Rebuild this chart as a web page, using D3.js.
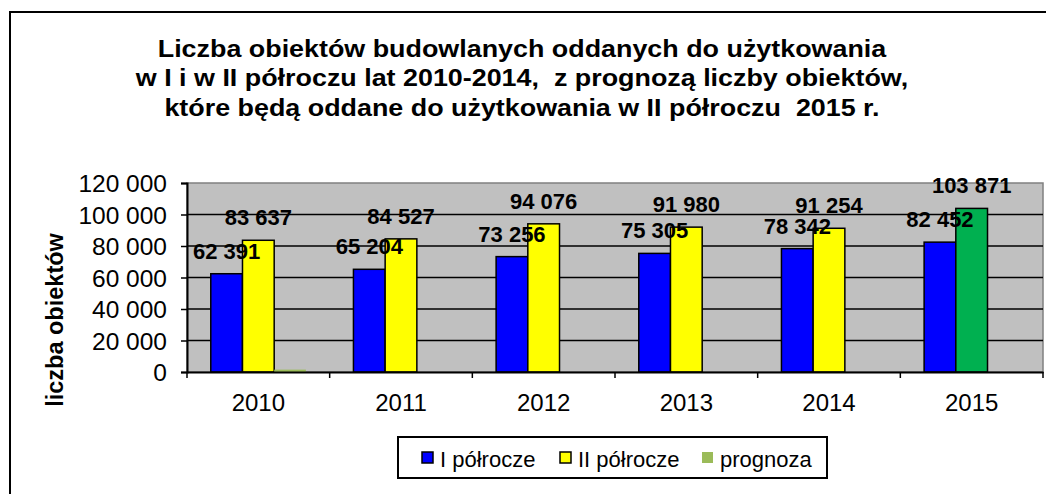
<!DOCTYPE html>
<html>
<head>
<meta charset="utf-8">
<script src="https://cdn.jsdelivr.net/npm/d3@7"></script>
<style>
  html, body { margin: 0; padding: 0; background: #fff; }
  svg { display: block; }
  text { font-family: "Liberation Sans", Arial, sans-serif; fill: #000; }
</style>
</head>
<body>
<svg id="chart" width="1046" height="494"></svg>
<script>
// ---- data ----
const years = ["2010", "2011", "2012", "2013", "2014", "2015"];
const firstHalf = [62391, 65204, 73256, 75305, 78342, 82452];
const secondHalf = [83637, 84527, 94076, 91980, 91254, 103871];
const forecast = [1500, null, null, null, null, null];
const forecastYear = "2015";
const yTicks = [0, 20000, 40000, 60000, 80000, 100000, 120000];
const seriesNames = ["I półrocze", "II półrocze", "prognoza"];
const titleLines = [
  "Liczba obiektów budowlanych oddanych do użytkowania",
  "w I i w II półroczu lat 2010-2014,  z prognozą liczby obiektów,",
  "które będą oddane do użytkowania w II półroczu  2015 r."
];
const yAxisTitle = "liczba obiektów";

// ---- layout ----
const svg = d3.select("#chart");
const plot = { left: 187, right: 1043, top: 183, bottom: 372 };
const colors = { I: "#0000FF", II: "#FFFF00", P: "#9BBB59", forecastBar: "#00B050" };
const fmt = v => d3.format(",")(v).replace(/,/g, " ");
const sx = 1.12; // horizontal stretch of the title text

// chart frame
svg.append("rect").attr("x", 10).attr("y", 12).attr("width", 1060).attr("height", 500)
  .attr("fill", "#fff").attr("stroke", "#000").attr("stroke-width", 2);

// title
svg.append("g").attr("transform", `scale(${sx},1)`)
  .selectAll("text").data(titleLines).join("text")
  .attr("x", 522 / sx).attr("y", (d, i) => 57 + i * 29.5)
  .attr("text-anchor", "middle").attr("font-weight", "bold").attr("font-size", 24)
  .style("white-space", "pre").text(d => d);

const x = d3.scaleBand().domain(years).range([plot.left, plot.right]).paddingInner(0).paddingOuter(0);
const keys = ["I", "II", "P"];
const xs = d3.scaleBand().domain(keys).range([0, x.bandwidth()]).paddingInner(0).paddingOuter(0.75);
const y = d3.scaleLinear().domain([0, 120000]).range([plot.bottom, plot.top]);

// plot background
svg.append("rect").attr("x", plot.left).attr("y", plot.top)
  .attr("width", plot.right - plot.left).attr("height", plot.bottom - plot.top)
  .attr("fill", "#C0C0C0").attr("stroke", "#808080").attr("stroke-width", 1.5);

// gridlines
svg.append("g").selectAll("line").data(yTicks.filter(t => t > 0 && t < 120000)).join("line")
  .attr("x1", plot.left).attr("x2", plot.right)
  .attr("y1", d => y(d)).attr("y2", d => y(d))
  .attr("stroke", "#000").attr("stroke-width", 1.5);

// bars
const rows = years.map((yr, i) => ({ year: yr, I: firstHalf[i], II: secondHalf[i], P: forecast[i] }));
const barData = [];
rows.forEach(r => keys.forEach(k => { if (r[k] != null) barData.push({ year: r.year, key: k, value: r[k] }); }));

svg.append("g").selectAll("rect").data(barData).join("rect")
  .attr("x", d => x(d.year) + xs(d.key))
  .attr("y", d => y(d.value))
  .attr("width", xs.bandwidth())
  .attr("height", d => y(0) - y(d.value))
  .attr("fill", d => (d.key === "II" && d.year === forecastYear) ? colors.forecastBar : colors[d.key])
  .attr("stroke", d => d.key === "P" ? "none" : "#000")
  .attr("stroke-width", 1.5);

// axes
const yAxis = d3.axisLeft(y).tickValues(yTicks).tickSize(6).tickFormat(fmt);
const gy = svg.append("g").attr("transform", `translate(${plot.left},0)`).call(yAxis);
gy.select(".domain").attr("stroke", "#000").attr("stroke-width", 2);
gy.selectAll(".tick line").attr("stroke", "#000").attr("stroke-width", 1.5);
gy.selectAll(".tick text").attr("font-size", 24.5).attr("font-family", "Liberation Sans, Arial, sans-serif")
  .attr("x", -20).attr("dy", "0.36em");

const xAxis = d3.axisBottom(x).tickSize(0).tickSizeOuter(0);
const gx = svg.append("g").attr("transform", `translate(0,${plot.bottom})`).call(xAxis);
gx.select(".domain").attr("stroke", "#000").attr("stroke-width", 2);
gx.selectAll(".tick text").attr("font-size", 24).attr("font-family", "Liberation Sans, Arial, sans-serif")
  .attr("y", 39).attr("dy", 0);
// category separator ticks
svg.append("g").selectAll("line").data(years.concat(["end"])).join("line")
  .attr("x1", d => d === "end" ? plot.right : x(d)).attr("x2", d => d === "end" ? plot.right : x(d))
  .attr("y1", plot.bottom).attr("y2", plot.bottom + 6)
  .attr("stroke", "#000").attr("stroke-width", 1.5);

// data labels
const labelData = barData.filter(d => d.key !== "P");
svg.append("g").selectAll("text").data(labelData).join("text")
  .attr("x", d => x(d.year) + xs(d.key) + xs.bandwidth() / 2)
  .attr("y", d => y(d.value) - 15)
  .attr("text-anchor", "middle").attr("font-weight", "bold").attr("font-size", 22)
  .text(d => fmt(d.value));

// y axis title
svg.append("text")
  .attr("transform", "translate(63,320) rotate(-90)")
  .attr("text-anchor", "middle").attr("font-weight", "bold").attr("font-size", 23.5)
  .text(yAxisTitle);

// legend
const lg = svg.append("g");
lg.append("rect").attr("x", 398).attr("y", 437).attr("width", 429).attr("height", 41)
  .attr("fill", "#fff").attr("stroke", "#000").attr("stroke-width", 2);
const legendX = [422, 560, 702];
const legendColors = [colors.I, colors.II, colors.P];
seriesNames.forEach((name, i) => {
  lg.append("rect").attr("x", legendX[i]).attr("y", 452).attr("width", 11).attr("height", 11)
    .attr("fill", legendColors[i]).attr("stroke", i < 2 ? "#000" : "none").attr("stroke-width", 1.5);
  lg.append("text").attr("x", legendX[i] + 18).attr("y", 466.5).attr("font-size", 22).text(name);
});
</script>
</body>
</html>
